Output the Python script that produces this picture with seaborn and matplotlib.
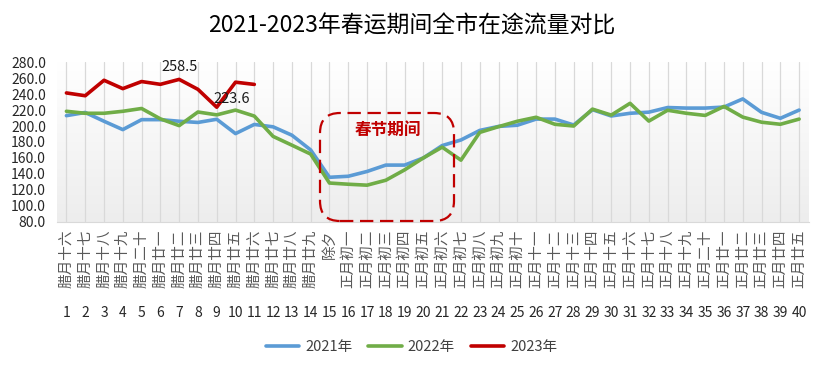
import numpy as np
import pandas as pd
import matplotlib
matplotlib.use("Agg")
import matplotlib.pyplot as plt
import seaborn as sns
from matplotlib.patches import FancyBboxPatch
from matplotlib.colors import LinearSegmentedColormap
from matplotlib.transforms import blended_transform_factory

# --- data ---
days = list(range(1, 41))
lunar = ["腊月十六", "腊月十七", "腊月十八", "腊月十九", "腊月二十",
         "腊月廿一", "腊月廿二", "腊月廿三", "腊月廿四", "腊月廿五",
         "腊月廿六", "腊月廿七", "腊月廿八", "腊月廿九", "除夕",
         "正月初一", "正月初二", "正月初三", "正月初四", "正月初五",
         "正月初六", "正月初七", "正月初八", "正月初九", "正月初十",
         "正月十一", "正月十二", "正月十三", "正月十四", "正月十五",
         "正月十六", "正月十七", "正月十八", "正月十九", "正月二十",
         "正月廿一", "正月廿二", "正月廿三", "正月廿四", "正月廿五"]

v2021 = [213, 217, 206, 195.5, 208, 208, 206, 204.5, 208.5, 190.5,
         202, 199, 188.5, 170, 135.7, 137, 143, 151, 151, 160,
         175.5, 182.5, 194.5, 199.5, 201, 208.7, 208.7, 201.3, 220.5, 212.6,
         216, 217.4, 223.2, 222.5, 222.5, 223.8, 234, 217.2, 209.7, 220]
v2022 = [218.5, 216, 216, 218.5, 222, 209, 200.5, 217.6, 214, 220,
         212.5, 187, 176, 164.8, 128.5, 127, 125.8, 132, 145, 160,
         173.5, 157.2, 192, 199.2, 206, 211, 202.2, 200, 221.2, 213.7,
         228.5, 206.2, 219.8, 216, 213.3, 224.6, 211.2, 204.8, 202.2, 208.7]
v2023 = [241.5, 238, 257.4, 246.9, 255.8, 252.3, 258.5, 246, 223.6, 255, 252.2]

years = ["2021年", "2022年", "2023年"]
colors = ["#5B9BD5", "#70AD47", "#C00000"]

# long table for seaborn
df = pd.concat([
    pd.DataFrame({"day": days, "value": v2021, "year": years[0]}),
    pd.DataFrame({"day": days, "value": v2022, "year": years[1]}),
    pd.DataFrame({"day": days[:len(v2023)], "value": v2023, "year": years[2]}),
])

sns.set_style("white")
plt.rcParams["font.family"] = ["Noto Sans CJK SC", "DejaVu Sans"]

fig = plt.figure(figsize=(8.23, 3.75), dpi=100)
ax = fig.add_axes([0.0693, 0.4088, 0.9131, 0.4252])

# plot area gradient
grad = np.linspace(0, 1, 256).reshape(-1, 1)
cmap = LinearSegmentedColormap.from_list("bg", ["#ffffff", "#ededed"])
ax.imshow(grad, cmap=cmap, extent=[0.5, 40.5, 80, 280], aspect="auto",
          origin="upper", zorder=0)

sns.lineplot(data=df, x="day", y="value", hue="year", hue_order=years,
             palette=colors, linewidth=2.6, sort=False, ax=ax, legend=True)

ax.set_xlim(0.5, 40.5)
ax.set_ylim(80, 280)
ax.set_yticks(range(80, 281, 20))
ax.set_yticklabels([f"{v:.1f}" for v in range(80, 281, 20)])
ax.set_xlabel("")
ax.set_ylabel("")

ax.set_xticks(days)
ax.set_xticklabels([str(d) for d in days])
ax.set_xticks(np.arange(0.5, 41, 1), minor=True)
ax.tick_params(axis="x", which="major", length=0, pad=61, labelsize=10,
               labelcolor="#262626")
ax.tick_params(axis="x", which="minor", length=71, width=0.8,
               color="#d9d9d9", direction="out")
ax.tick_params(axis="y", length=0, labelsize=10, labelcolor="#262626", pad=8)

ax.set_axisbelow(True)
ax.grid(axis="x", color="#d9d9d9", linewidth=0.9)
ax.grid(axis="y", visible=False)
for s in ["top", "right", "left"]:
    ax.spines[s].set_visible(False)
ax.spines["bottom"].set_color("#d9d9d9")

# lunar date labels (second category row)
trans = blended_transform_factory(ax.transData, ax.transAxes)
for d, lab in zip(days, lunar):
    ax.text(d, -0.05, lab, rotation=90, ha="center", va="top",
            fontsize=10.5, color="#595959", transform=trans)

# data labels on 2023
ax.annotate("258.5", (7, v2023[6]), xytext=(0, 4), textcoords="offset points",
            ha="center", va="bottom", fontsize=10.5, color="#1a1a1a")
ax.annotate("223.6", (9, v2023[8]), xytext=(11, 6), textcoords="offset points",
            ha="center", va="center", fontsize=10.5, color="#1a1a1a")

# spring festival box
r = 0.2
x0, x1, y0, y1 = 3.20, 4.54, 1.54, 2.62
box = FancyBboxPatch((x0 + r, y0 + r), x1 - x0 - 2 * r, y1 - y0 - 2 * r,
                     boxstyle=f"round,pad={r}", transform=fig.dpi_scale_trans,
                     fill=False, edgecolor="#C00000", linewidth=1.6,
                     linestyle=(0, (6, 3)), zorder=5)
fig.add_artist(box)
fig.text(388 / 823, 1 - 130 / 375, "春节期间", ha="center", va="center",
         fontsize=12, fontweight="bold", color="#C00000")

# title
fig.text(0.5, 1 - 26 / 375, "2021-2023年春运期间全市在途流量对比",
         ha="center", va="center", fontsize=16.5, color="#000000")

# legend at bottom
ax.legend_.remove()
handles, labels = ax.get_legend_handles_labels()
fig.legend(handles, labels, loc="center", bbox_to_anchor=(0.5, 1 - 347 / 375),
           ncol=3, frameon=False, fontsize=10.5, handlelength=2.3,
           handletextpad=0.4, columnspacing=1.1, labelcolor="#404040")

fig.savefig("out.png", dpi=100)
